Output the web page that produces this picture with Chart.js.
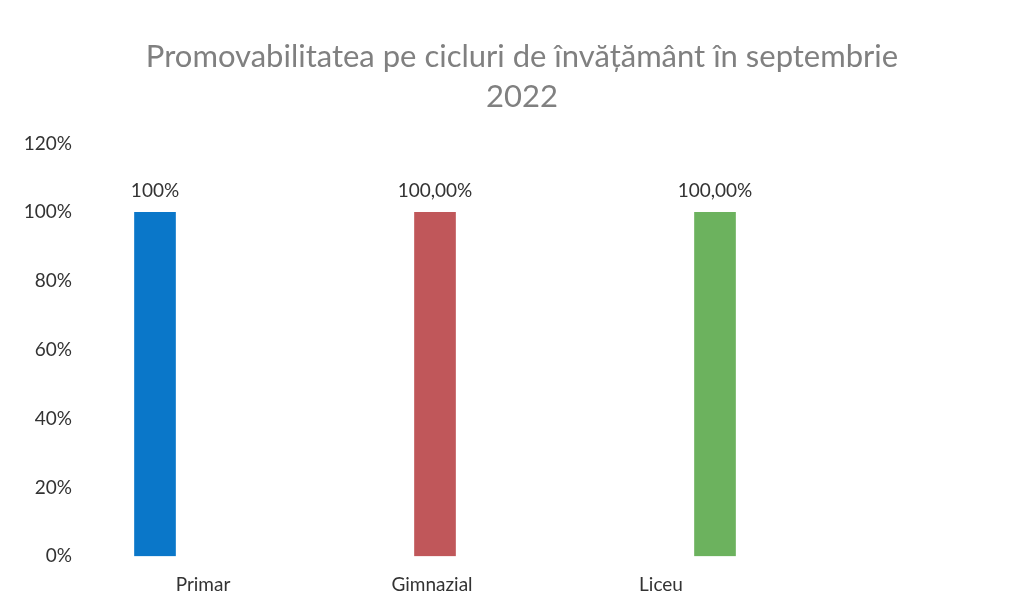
<!DOCTYPE html>
<html>
<head>
<meta charset="utf-8">
<script src="https://cdn.jsdelivr.net/npm/chart.js@4"></script>
<style>
  body { margin: 0; background: #fff; }
  #wrap { width: 1029px; height: 612px; }
</style>
</head>
<body>
<div id="wrap"><canvas id="myChart"></canvas></div>
<script>
const categories = ["Primar", "Gimnazial", "Liceu"];
const values = [100, 100, 100];
const valueLabels = ["100%", "100,00%", "100,00%"];
const barColors = ["#0a77c9", "#c0575a", "#6cb25e"];
const yTicks = [0, 20, 40, 60, 80, 100, 120];

// draws the value text above each bar
const valueLabelPlugin = {
  id: "valueLabels",
  afterDatasetsDraw(chart) {
    const ctx = chart.ctx;
    const meta = chart.getDatasetMeta(0);
    ctx.save();
    ctx.font = "19px Lato";
    ctx.fillStyle = "#333333";
    ctx.textAlign = "center";
    ctx.textBaseline = "bottom";
    meta.data.forEach((bar, i) => {
      ctx.fillText(valueLabels[i], bar.x, bar.y - 12);
    });
    ctx.restore();
  },
};

const ctx = document.getElementById("myChart").getContext("2d");
new Chart(ctx, {
  type: "bar",
  data: {
    datasets: [
      {
        data: values.map((v, i) => ({ x: i, y: v })),
        backgroundColor: barColors,
        barThickness: 41,
        xAxisID: "x",
      },
    ],
  },
  plugins: [valueLabelPlugin],
  options: {
    responsive: true,
    maintainAspectRatio: false,
    animation: false,
    layout: { padding: { left: 15, right: 0, top: 0, bottom: 7 } },
    plugins: {
      legend: { display: false },
      tooltip: { enabled: false },
      title: {
        display: true,
        text: ["Promovabilitatea pe cicluri de învățământ în septembrie", "2022"],
        color: "#808080",
        font: { family: "Lato", size: 31, weight: "normal", lineHeight: 1.3 },
        padding: { top: 37, bottom: 26 },
      },
    },
    scales: {
      // bar positions (labels are drawn by x2, which sits slightly off the bars)
      x: {
        type: "linear",
        display: false,
        min: -0.2393,
        max: 3.1214,
        offset: false,
      },
      x2: {
        type: "linear",
        position: "bottom",
        min: -0.5022,
        max: 3.607,
        offset: false,
        afterBuildTicks: (axis) => {
          axis.ticks = categories.map((c, i) => ({ value: i }));
        },
        grid: { display: false },
        border: { display: false },
        ticks: {
          color: "#333333",
          font: { family: "Lato", size: 19 },
          padding: 9,
          autoSkip: false,
          callback: (v) => categories[v],
        },
      },
      y: {
        min: 0,
        max: 120,
        afterBuildTicks: (axis) => {
          axis.ticks = yTicks.map((v) => ({ value: v }));
        },
        afterFit: (axis) => {
          axis.width = 73;
        },
        grid: { display: false },
        border: { display: false },
        ticks: {
          color: "#333333",
          font: { family: "Lato", size: 19 },
          padding: 8,
          callback: (v) => v + "%",
        },
      },
    },
  },
});
</script>
</body>
</html>
